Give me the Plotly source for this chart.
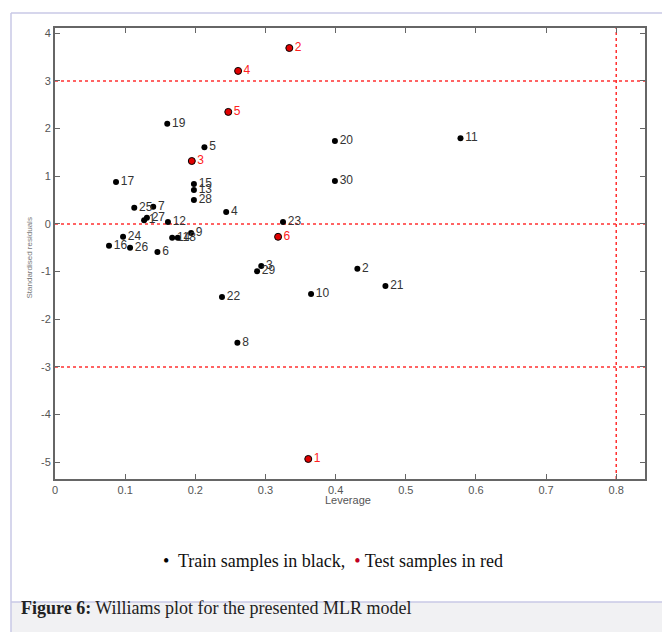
import plotly.graph_objects as go

# Train samples (black)
train_labels = ["1", "2", "3", "4", "5", "6", "7", "8", "9", "10",
                "11", "12", "13", "14", "15", "16", "17", "18", "19", "20",
                "21", "22", "23", "24", "25", "26", "27", "28", "29", "30"]
train_leverage = [0.127, 0.431, 0.294, 0.244, 0.213, 0.146, 0.140, 0.260, 0.194, 0.365,
                  0.578, 0.161, 0.198, 0.167, 0.198, 0.077, 0.087, 0.175, 0.160, 0.399,
                  0.471, 0.238, 0.325, 0.097, 0.113, 0.107, 0.131, 0.198, 0.288, 0.399]
train_resid = [0.08, -0.94, -0.88, 0.25, 1.61, -0.59, 0.36, -2.49, -0.19, -1.47,
               1.80, 0.04, 0.71, -0.29, 0.84, -0.46, 0.88, -0.29, 2.10, 1.74,
               -1.30, -1.53, 0.04, -0.27, 0.34, -0.50, 0.13, 0.50, -0.99, 0.90]

# Test samples (red)
test_labels = ["1", "2", "3", "4", "5", "6"]
test_leverage = [0.361, 0.334, 0.195, 0.261, 0.247, 0.318]
test_resid = [-4.93, 3.69, 1.32, 3.21, 2.35, -0.27]

x_ticks = [0, 0.1, 0.2, 0.3, 0.4, 0.5, 0.6, 0.7, 0.8]
y_ticks = [-5, -4, -3, -2, -1, 0, 1, 2, 3, 4]
resid_limits = [-3, 0, 3]
leverage_limit = 0.8

fig = go.Figure()

fig.add_trace(go.Scatter(
    x=train_leverage, y=train_resid, text=train_labels,
    mode="markers+text", textposition="middle right",
    marker=dict(color="black", size=6),
    textfont=dict(family="Arial", size=12, color="#333333"),
    cliponaxis=False, showlegend=False))

fig.add_trace(go.Scatter(
    x=test_leverage, y=test_resid, text=test_labels,
    mode="markers+text", textposition="middle right",
    marker=dict(color="#e00000", size=7, line=dict(color="black", width=1)),
    textfont=dict(family="Arial", size=12, color="#ff2020"),
    cliponaxis=False, showlegend=False))

shapes = []
for yv in resid_limits:
    shapes.append(dict(type="line", xref="paper", yref="y", x0=0, x1=1, y0=yv, y1=yv,
                       line=dict(color="#ff3030", width=1.5, dash="dot"), layer="below"))
shapes.append(dict(type="line", xref="x", yref="paper", x0=leverage_limit, x1=leverage_limit,
                   y0=0, y1=1, line=dict(color="#ff3030", width=1.5, dash="dot"), layer="below"))

# page frame and caption box (paper coords)
def px2x(p):
    return (p - 55) / 590.0

def py2y(p):
    return (479 - p) / 451.0

frame_col = "#c8c8e6"
shapes.append(dict(type="rect", xref="paper", yref="paper",
                   x0=px2x(11), x1=px2x(663), y0=py2y(633), y1=py2y(602),
                   fillcolor="#f1f1f3", line=dict(width=0), layer="below"))
shapes.append(dict(type="line", xref="paper", yref="paper",
                   x0=px2x(11), x1=px2x(663), y0=py2y(602), y1=py2y(602),
                   line=dict(color=frame_col, width=1.5)))
shapes.append(dict(type="line", xref="paper", yref="paper",
                   x0=px2x(11), x1=px2x(663), y0=py2y(13), y1=py2y(13),
                   line=dict(color=frame_col, width=1.5)))
shapes.append(dict(type="line", xref="paper", yref="paper",
                   x0=px2x(11), x1=px2x(11), y0=py2y(13), y1=py2y(633),
                   line=dict(color=frame_col, width=1.5)))

annotations = [
    dict(text="Leverage", xref="paper", yref="paper", x=px2x(348), y=py2y(508),
         showarrow=False, font=dict(family="Arial", size=11, color="#555555")),
    dict(text="Standardised residuals", xref="paper", yref="paper", x=px2x(22), y=py2y(258),
         textangle=-90, showarrow=False, font=dict(family="Arial", size=8, color="#777777")),
    dict(text="<span style='color:black'>•</span>  Train samples in black,  "
              "<span style='color:#c00020'>•</span> Test samples in red",
         xref="paper", yref="paper", x=px2x(333), y=py2y(573),
         showarrow=False, font=dict(family="Liberation Serif", size=18, color="#111111")),
    dict(text="<b>Figure 6:</b> Williams plot for the presented MLR model",
         xref="paper", yref="paper", x=px2x(19), y=py2y(620), xanchor="left",
         showarrow=False, font=dict(family="Liberation Serif", size=18, color="#222222")),
]

axis_common = dict(showgrid=False, zeroline=False, showline=True, mirror="ticks",
                   linecolor="#666666", linewidth=2, ticks="inside", ticklen=5,
                   tickcolor="#666666", tickwidth=1,
                   tickfont=dict(family="Arial", size=11, color="#555555"))

fig.update_layout(
    width=662, height=632,
    margin=dict(l=55, r=17, t=28, b=153),
    plot_bgcolor="white", paper_bgcolor="white",
    xaxis=dict(range=[0, 0.841], tickvals=x_ticks,
               ticktext=[("0" if v == 0 else f"{v:.1f}") for v in x_ticks], **axis_common),
    yaxis=dict(range=[-5.35, 4.11], tickvals=y_ticks,
               ticktext=[str(v) for v in y_ticks], **axis_common),
    shapes=shapes, annotations=annotations,
)

fig.write_html("out.html")
